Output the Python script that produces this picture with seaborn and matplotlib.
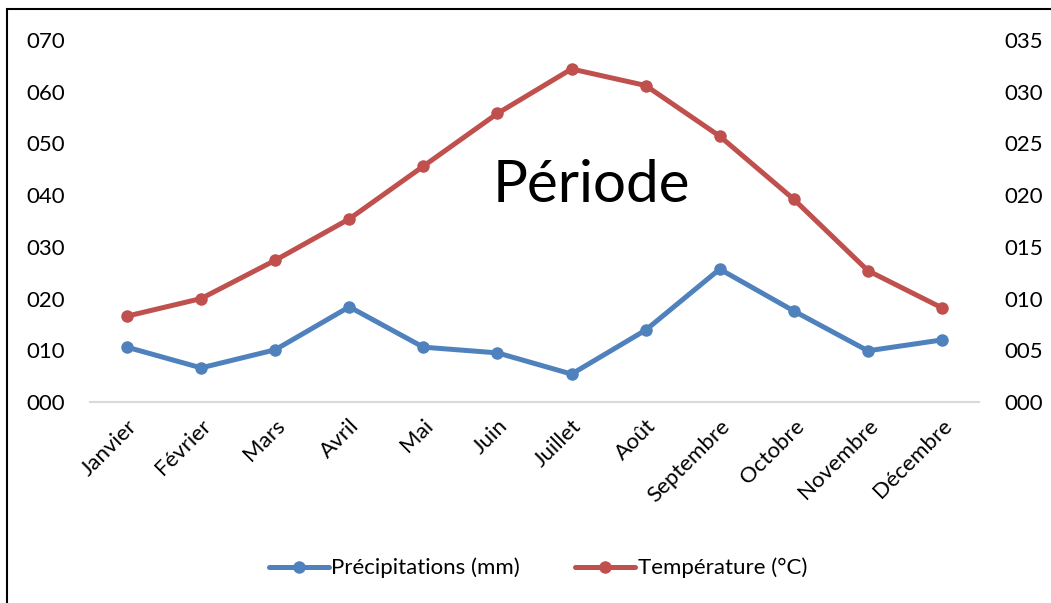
import matplotlib
matplotlib.use("Agg")
import matplotlib.pyplot as plt
import seaborn as sns
import pandas as pd
from matplotlib.ticker import FuncFormatter, MultipleLocator
from matplotlib.patches import Rectangle
from matplotlib.transforms import ScaledTranslation

months = ["Janvier", "Février", "Mars", "Avril", "Mai", "Juin", "Juillet",
          "Août", "Septembre", "Octobre", "Novembre", "Décembre"]
precip = [10.6, 6.6, 10.1, 18.4, 10.6, 9.5, 5.4, 13.9, 25.7, 17.6, 9.9, 12.0]
temp = [8.3, 10.0, 13.7, 17.7, 22.8, 27.9, 32.2, 30.6, 25.7, 19.6, 12.7, 9.1]

sns.set_style("white")
plt.rcParams['font.family'] = ['Lato', 'DejaVu Sans']
plt.rcParams['text.color'] = 'black'
plt.rcParams['xtick.color'] = 'black'
plt.rcParams['ytick.color'] = 'black'

blue = "#4f81bd"
red = "#c0504d"

df = pd.DataFrame({"x": range(len(months)), "precip": precip, "temp": temp})

fig = plt.figure(figsize=(10.51, 6.03), dpi=100)
ax = fig.add_axes([90/1051, 1-402/603, 889/1051, 362/603])
ax2 = ax.twinx()

sns.lineplot(data=df, x="x", y="precip", ax=ax, color=blue, lw=3.6,
             marker="o", markersize=9, markeredgewidth=0, label="Précipitations (mm)", legend=False)
sns.lineplot(data=df, x="x", y="temp", ax=ax2, color=red, lw=3.6,
             marker="o", markersize=9, markeredgewidth=0, label="Température (°C)", legend=False)

ax.set_xlim(-0.5, len(months)-0.5)
ax.set_ylim(0, 70)
ax2.set_ylim(0, 35)
ax.yaxis.set_major_locator(MultipleLocator(10))
ax2.yaxis.set_major_locator(MultipleLocator(5))
fmt = FuncFormatter(lambda v, p: f"{int(round(v)):03d}")
ax.yaxis.set_major_formatter(fmt)
ax2.yaxis.set_major_formatter(fmt)

ax.set_xticks(range(len(months)))
ax.set_xticklabels(months, rotation=45, ha="right", rotation_mode="anchor", fontsize=16)
offset = ScaledTranslation(14/100, 0, fig.dpi_scale_trans)
for lbl in ax.get_xticklabels():
    lbl.set_transform(lbl.get_transform() + offset)
ax.set_xlabel("")
ax.set_ylabel("")
ax2.set_ylabel("")

for a in (ax, ax2):
    for s in a.spines.values():
        s.set_visible(False)
    a.tick_params(length=0, labelsize=16)
ax.spines["bottom"].set_visible(True)
ax.spines["bottom"].set_color("#d9d9d9")
ax.spines["bottom"].set_linewidth(1.5)
ax.tick_params(axis="y", pad=18)
ax2.tick_params(axis="y", pad=18)
ax.tick_params(axis="x", pad=10)

fig.text(591/1051, 1-185/603, "Période", fontsize=42, ha="center", va="center", color="black")

h1, l1 = ax.get_legend_handles_labels()
h2, l2 = ax2.get_legend_handles_labels()
fig.legend(h1+h2, l1+l2, loc="center", bbox_to_anchor=(538/1051, 1-568/603),
           ncol=2, frameon=False, fontsize=16, handlelength=2.7, columnspacing=2.5,
           handletextpad=0.1)

fig.patches.append(Rectangle((7/1051, -0.1), 1.2, 1-9/603+0.1, transform=fig.transFigure,
                             fill=False, edgecolor="black", lw=1.5))

fig.savefig("out.png", dpi=100)
